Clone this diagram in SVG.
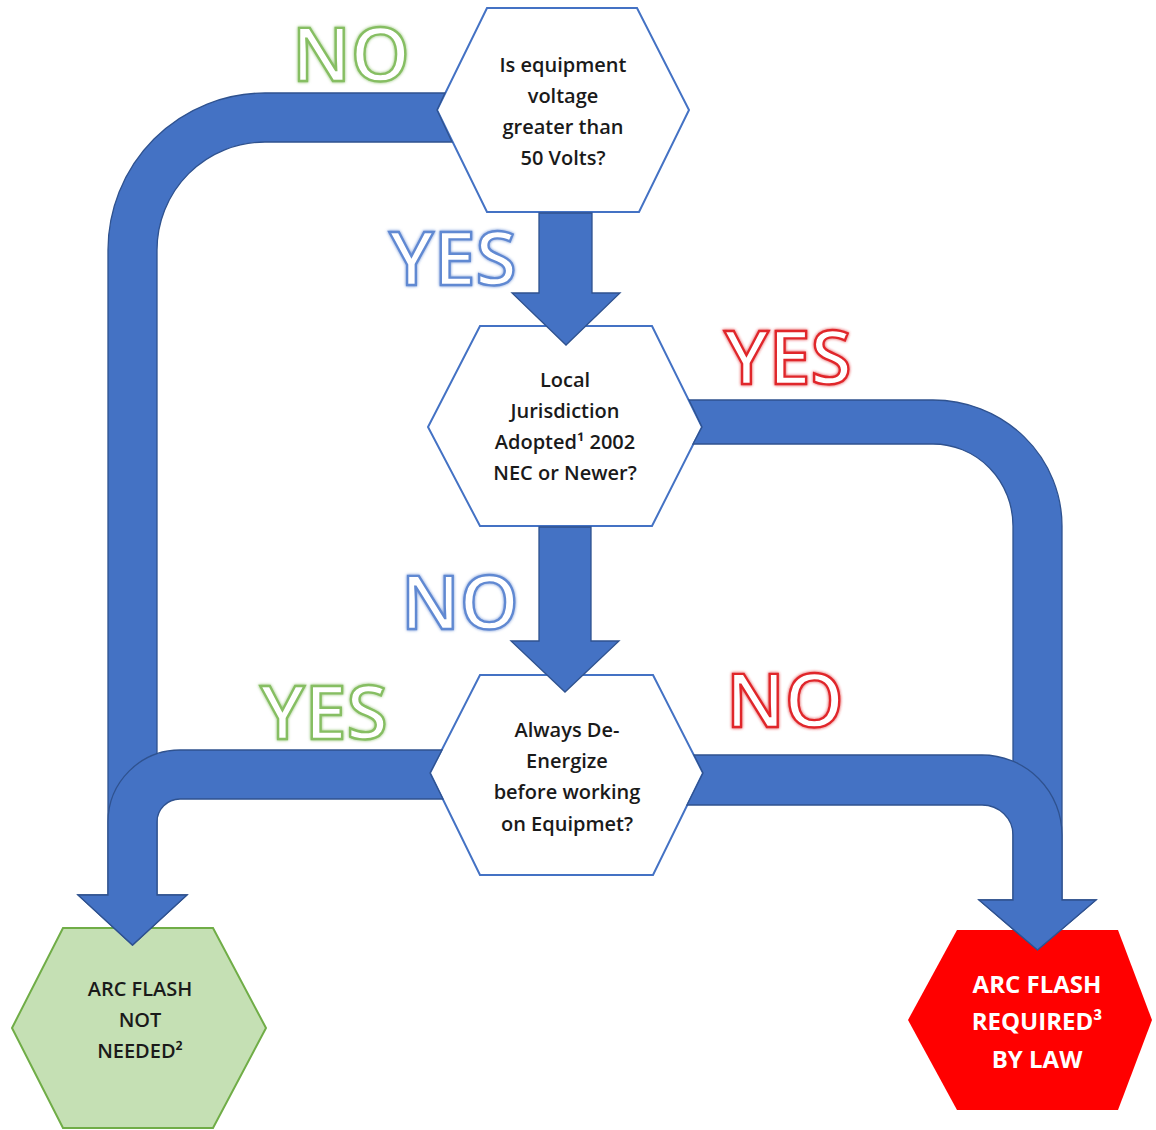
<svg xmlns="http://www.w3.org/2000/svg" width="1156" height="1130" viewBox="0 0 1156 1130">
<defs>
<filter id="glow" x="-10%" y="-10%" width="120%" height="120%">
<feGaussianBlur in="SourceGraphic" stdDeviation="1.6" result="b"/>
<feMerge><feMergeNode in="b"/><feMergeNode in="SourceGraphic"/></feMerge>
</filter>
</defs>
<style>
.q{fill:#ffffff;stroke:#4472C4;stroke-width:2}
.t{font-family:"Open Sans","Liberation Sans",sans-serif;font-size:20px;font-weight:600;fill:#1a1a1a;text-anchor:middle}
.tw{font-family:"Open Sans","Liberation Sans",sans-serif;font-size:24px;font-weight:bold;fill:#ffffff;text-anchor:middle}
.arr{fill:#4472C4;stroke:#2F528F;stroke-width:1.3;stroke-linejoin:miter}
.big{font-family:"Open Sans","Liberation Sans",sans-serif;font-size:75px;font-weight:600;fill:#ffffff;stroke-width:2.4;text-anchor:middle;filter:url(#glow)}
.g{stroke:#86BE62}
.b{stroke:#6189D2}
.r{stroke:#E0262B}
</style>
<rect width="1156" height="1130" fill="#ffffff"/>

<g id="node-not-needed">
<polygon points="63,928 213,928 266,1028 213,1128 63,1128 12,1028" fill="#C5E0B4" stroke="#70AD47" stroke-width="2"/>
<text class="t" x="140" y="996">ARC FLASH</text>
<text class="t" x="140" y="1027">NOT</text>
<text class="t" x="140" y="1058">NEEDED²</text>
</g>

<g id="node-required">
<polygon points="957,930 1118,930 1152,1020 1118,1110 957,1110 908,1020" fill="#FF0000"/>
<text class="tw" x="1037" y="993">ARC FLASH</text>
<text class="tw" x="1037" y="1030">REQUIRED³</text>
<text class="tw" x="1037" y="1068">BY LAW</text>
</g>

<g id="node-voltage">
<polygon class="q" points="487,8 637,8 689,110 639,212 487,212 437,110"/>
<text class="t" x="563" y="72">Is equipment</text>
<text class="t" x="563" y="103">voltage</text>
<text class="t" x="563" y="134">greater than</text>
<text class="t" x="563" y="165">50 Volts?</text>
</g>

<g id="node-jurisdiction">
<polygon class="q" points="480,326 652,326 702,427 652,526 480,526 428,427"/>
<text class="t" x="565" y="387">Local</text>
<text class="t" x="565" y="418">Jurisdiction</text>
<text class="t" x="565" y="449">Adopted¹ 2002</text>
<text class="t" x="565" y="480">NEC or Newer?</text>
</g>

<g id="node-deenergize">
<polygon class="q" points="480,675 653,675 703,773 653,875 480,875 430,773"/>
<text class="t" x="567" y="737">Always De-</text>
<text class="t" x="567" y="768">Energize</text>
<text class="t" x="567" y="799">before working</text>
<text class="t" x="567" y="831">on Equipmet?</text>
</g>

<g id="connectors">
<path class="arr" d="M445,93 L265,93 A157,157 0 0 0 108,250 L108,895 L78,895 L132.5,945 L187,895 L157,895 L157,250 A108,108 0 0 1 265,142 L452,142 L437,110 Z"/>
<path class="arr" d="M442,750 L180,750 A72,72 0 0 0 108,822 L108,895 L78,895 L132.5,945 L187,895 L157,895 L157,822 A23,23 0 0 1 180,799 L443,799 L430,773 Z"/>
<path class="arr" d="M689,400 L933,400 A129,126 0 0 1 1062,526 L1062,900 L1096,900 L1037.5,950 L979,900 L1013,900 L1013,526 A80,82 0 0 0 933,444 L693,444 L702,427 Z"/>
<path class="arr" d="M694,755 L982,755 A80,80 0 0 1 1062,835 L1062,900 L1096,900 L1037.5,950 L979,900 L1013,900 L1013,835 A31,30 0 0 0 982,805 L687,805 L703,773 Z"/>
<path class="arr" d="M539,213 L592,213 L592,293 L620,293 L566,345 L512,293 L539,293 Z"/>
<path class="arr" d="M539,527 L591,527 L591,641 L619,641 L565,692 L511,641 L539,641 Z"/>
</g>

<g id="labels">
<text class="big g" x="351" y="81">NO</text>
<text class="big b" x="453" y="285">YES</text>
<text class="big r" x="788" y="384">YES</text>
<text class="big b" x="460" y="629">NO</text>
<text class="big g" x="324" y="739">YES</text>
<text class="big r" x="785" y="727">NO</text>
</g>
</svg>
